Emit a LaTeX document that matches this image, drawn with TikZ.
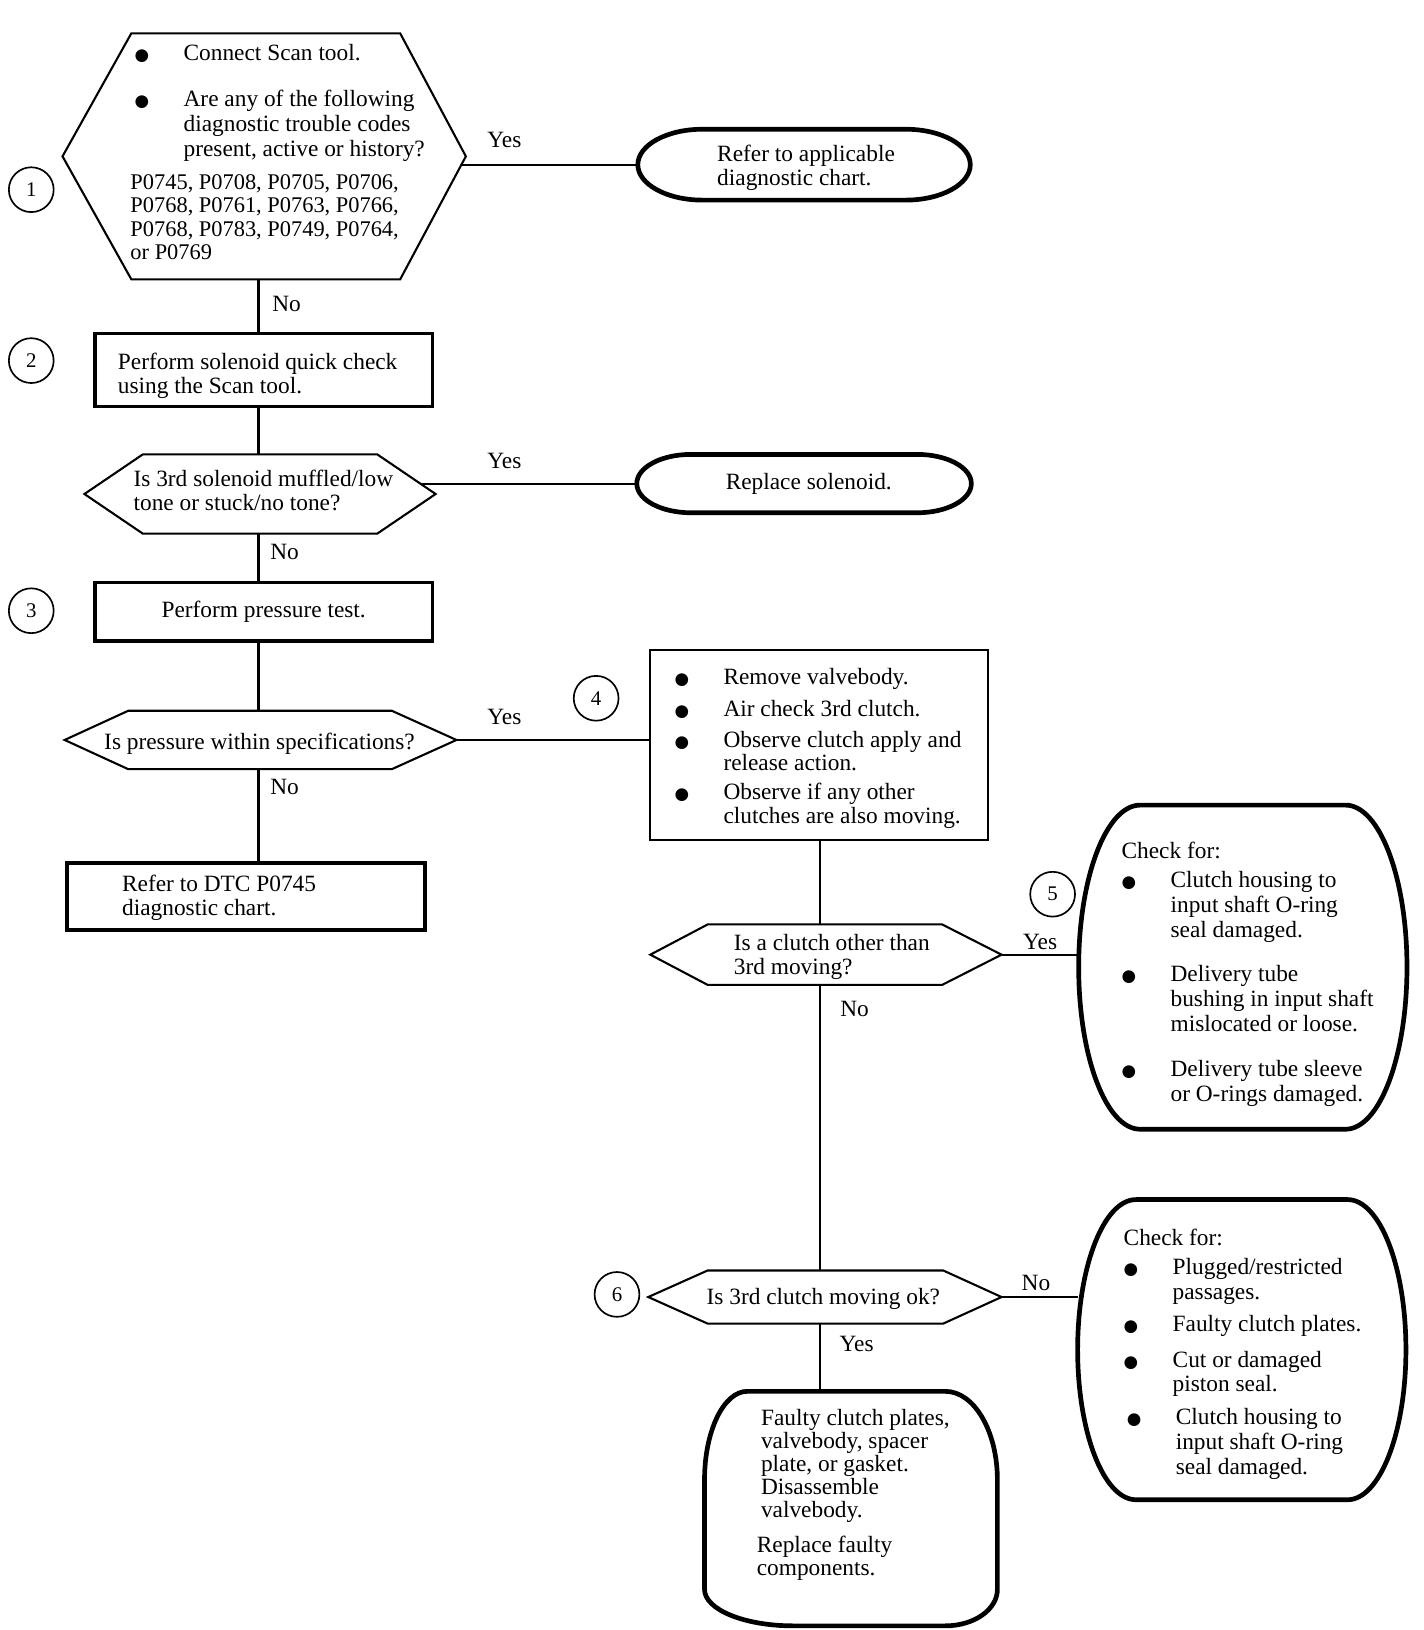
\documentclass[tikz,border=0pt]{standalone}
\usepackage{fontspec}
\setmainfont{Liberation Serif}
\newfontfamily\dejavu{DejaVu Sans}
\usetikzlibrary{backgrounds}

\newcommand{\bul}{\makebox[47pt][l]{\dejavu\fontsize{16}{16}\selectfont ●}}
\newcommand{\ind}{\hspace*{47pt}}

% hexagon round a spot node: node, left tip, right tip
\newcommand{\hexframe}[3]{%
  \draw[hexline] (#1.west) -- ([xshift=#2pt]#1.north west) -- ([xshift=-#3pt]#1.north east)
    -- (#1.east) -- ([xshift=-#3pt]#1.south east) -- ([xshift=#2pt]#1.south west) -- cycle;}
% flat top and bottom, half ellipses at the sides: node, rx, ry
\newcommand{\capframe}[3]{%
  \draw[heavyline] ([xshift=#2pt]#1.north west) -- ([xshift=-#2pt]#1.north east)
    arc[start angle=-90, end angle=90, x radius=#2, y radius=#3]
    -- ([xshift=#2pt]#1.south west)
    arc[start angle=90, end angle=270, x radius=#2, y radius=#3] -- cycle;}

\tikzset{
  every node/.style={font=\fontsize{22.4}{23}\selectfont},
  spot/.style={inner sep=0pt, outer sep=0pt},
  hexline/.style={draw, fill=white, line width=2pt},
  heavyline/.style={draw, fill=white, line width=4.5pt},
  boxline/.style={draw, fill=white, line width=3.6pt, inner sep=0pt},
  thinline/.style={draw, fill=white, line width=1.8pt, inner sep=0pt},
  txt/.style={inner sep=0pt, align=left, anchor=north west},
  lbl/.style={inner sep=0pt},
  num/.style={draw, circle, line width=1.6pt, minimum size=43pt, inner sep=0pt,
    font=\fontsize{20}{20}\selectfont},
  link/.style={line width=2pt},
  trunk/.style={line width=3.5pt},
}

\begin{document}
\begin{tikzpicture}[x=1pt,y=-1pt]
  \useasboundingbox (0,0) rectangle (1366,1564);
  \coordinate (lane) at (248,0);
  \coordinate (laneb) at (787,0);

  % shapes
  \node[spot, minimum width=387pt, minimum height=236pt] (h1) at (253.5,150) {};
  \hexframe{h1}{66}{63}
  \node[spot, minimum width=319pt, minimum height=68pt] (t1) at (771.5,158) {};
  \capframe{t1}{62}{34}
  \node[boxline, minimum width=324pt, minimum height=70pt] (b2) at (253,355) {};
  \node[spot, minimum width=337pt, minimum height=76pt] (d1) at (249.5,474) {};
  \hexframe{d1}{56}{56}
  \node[spot, minimum width=321pt, minimum height=56pt] (t2) at (771.5,464) {};
  \capframe{t2}{52}{28}
  \node[boxline, minimum width=324pt, minimum height=56pt] (b3) at (253,587) {Perform pressure test.};
  \node[spot, minimum width=376pt, minimum height=56pt] (d2) at (250,710) {};
  \hexframe{d2}{61}{62}
  \node[thinline, minimum width=324pt, minimum height=182pt] (b4) at (786,715) {};
  \node[boxline, minimum width=344pt, minimum height=64pt] (b5) at (236,860) {};
  \node[spot, minimum width=337pt, minimum height=58pt] (d3) at (792.5,916) {};
  \hexframe{d3}{55}{57}
  \node[spot, minimum width=315pt, minimum height=311pt] (s1) at (1192.5,928) {};
  \capframe{s1}{59}{155.5}
  \node[spot, minimum width=339pt, minimum height=51pt] (d4) at (791.5,1244.5) {};
  \hexframe{d4}{57}{56}
  \node[spot, minimum width=315pt, minimum height=288pt] (s2) at (1191.5,1295) {};
  \capframe{s2}{56}{144}
  \node[spot, minimum width=281pt, minimum height=225pt] (s3) at (816.5,1447.5) {};
  \draw[heavyline] ([xshift=41pt]s3.north west) -- ([xshift=-50pt]s3.north east)
    arc[start angle=-90, end angle=0, x radius=50, y radius=85]
    -- ([yshift=35pt]s3.south east)
    arc[start angle=0, end angle=90, x radius=50, y radius=35]
    -- ([xshift=85pt]s3.south west)
    arc[start angle=90, end angle=180, x radius=85, y radius=35]
    -- ([yshift=-85pt]s3.north west)
    arc[start angle=180, end angle=270, x radius=41, y radius=85] -- cycle;

  % connectors
  \begin{scope}[on background layer]
    \draw[trunk] (h1.south -| lane) -- (b2.north -| lane);
    \draw[trunk] (b2.south -| lane) -- (d1.north -| lane);
    \draw[link] (d1.south -| lane) -- (b3.north -| lane);
    \draw[trunk] (b3.south -| lane) -- (d2.north -| lane);
    \draw[link] (d2.south -| lane) -- (b5.north -| lane);
    \draw[link] (t1.west) -- (t1.west -| h1.center);
    \draw[link] (t2.west) -- (t2.west -| d1.center);
    \draw[link] (d2.east) -- (d2.east -| b4.west);
    \draw[link] (b4.south -| laneb) -- (d3.north -| laneb);
    \draw[link] (d3.east) -- (d3.east -| s1.west);
    \draw[link] (d3.south -| laneb) -- (d4.north -| laneb);
    \draw[link] (d4.east) -- (d4.east -| s2.west);
    \draw[link] (d4.south -| laneb) -- (s3.north -| laneb);
  \end{scope}

  % step numbers
  \node[num] (c1) at (30,182) {1};
  \node[num] (c2) at (30,346) {2};
  \node[num] (c3) at (30,586) {3};
  \node[num] (c4) at (572,670) {4};
  \node[num] (c5) at (1010,858) {5};
  \node[num] (c6) at (592,1242) {6};

  % answers
  \node[lbl] (yes1) at (484,134) {Yes};
  \node[lbl] (no1) at (275,292) {No};
  \node[lbl] (yes2) at (484,442) {Yes};
  \node[lbl] (no2) at (273,530) {No};
  \node[lbl] (yes3) at (484,688) {Yes};
  \node[lbl] (no3) at (273,755) {No};
  \node[lbl] (yes4) at (998,904) {Yes};
  \node[lbl] (no4) at (820,968) {No};
  \node[lbl] (no5) at (994,1231) {No};
  \node[lbl] (yes5) at (822,1290) {Yes};

  % texts
  \node[txt] (h1a) at (129,42.5) {\bul Connect Scan tool.\\[21pt]
    \bul Are any of the following\\[1pt] \ind diagnostic trouble codes\\[1pt]
    \ind present, active or history?};
  \node[txt, font=\fontsize{21.5}{22.5}\selectfont] (h1b) at (125,167) {P0745, P0708, P0705, P0706,\\
    P0768, P0761, P0763, P0766,\\ P0768, P0783, P0749, P0764,\\ or P0769};
  \node[txt] (t1a) at (688,139) {Refer to applicable\\diagnostic chart.};
  \node[txt] (b2a) at (113,338.5) {Perform solenoid quick check\\using the Scan tool.};
  \node[txt] (d1a) at (128,451) {Is 3rd solenoid muffled/low\\tone or stuck/no tone?};
  \node[lbl] (t2a) at (776,464) {Replace solenoid.};
  \node[lbl] (d2a) at (249,714) {Is pressure within specifications?};
  \node[txt] (b4a) at (647,641) {\bul Remove valvebody.\\[8pt] \bul Air check 3rd clutch.\\[6pt]
    \bul Observe clutch apply and\\ \ind release action.\\[4pt]
    \bul Observe if any other\\ \ind clutches are also moving.};
  \node[txt] (b5a) at (117,839) {Refer to DTC P0745\\diagnostic chart.};
  \node[txt] (d3a) at (704,896) {Is a clutch other than\\3rd moving?};
  \node[lbl] (d4a) at (790,1246) {Is 3rd clutch moving ok?};
  \node[txt] (s1a) at (1076,808) {Check for:\\[5pt]
    \bul Clutch housing to\\[1pt] \ind input shaft O-ring\\[1pt] \ind seal damaged.\\[19pt]
    \bul Delivery tube\\[1pt] \ind bushing in input shaft\\[1pt] \ind mislocated or loose.\\[20pt]
    \bul Delivery tube sleeve\\[1pt] \ind or O-rings damaged.};
  \node[txt] (s2a) at (1078,1179) {Check for:\\[5pt]
    \bul Plugged/restricted\\[1pt] \ind passages.\\[8pt]
    \bul Faulty clutch plates.\\[11pt]
    \bul Cut or damaged\\ \ind piston seal.\\[9pt]
    \hspace*{3pt}\bul Clutch housing to\\[1pt] \hspace*{3pt}\ind input shaft O-ring\\[1pt]
    \hspace*{3pt}\ind seal damaged.};
  \node[txt] (s3a) at (730,1352) {Faulty clutch plates,\\[-1pt] valvebody, spacer\\[-1pt]
    plate, or gasket.\\[-1pt] Disassemble\\[-1pt] valvebody.};
  \node[txt] (s3b) at (726,1474) {Replace faulty\\[-1pt] components.};
\end{tikzpicture}
\end{document}
